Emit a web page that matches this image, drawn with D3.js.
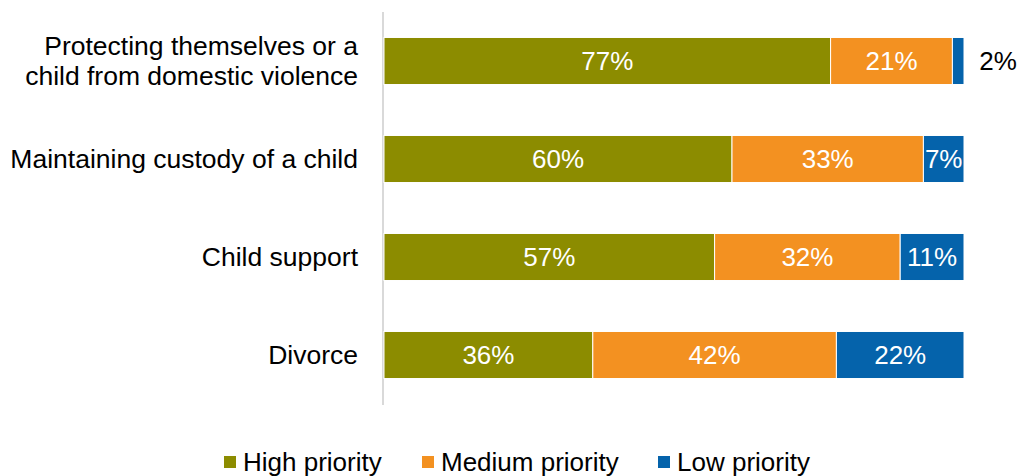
<!DOCTYPE html>
<html>
<head>
<meta charset="utf-8">
<script src="https://cdn.jsdelivr.net/npm/d3@7"></script>
<style>
  body { margin: 0; background: #fff; }
  text { font-family: "Liberation Sans", Arial, sans-serif; }
</style>
</head>
<body>
<svg id="chart" width="1021" height="476"></svg>
<script>
// Priority of legal needs, share of respondents per issue
const categories = [
  ["Protecting themselves or a", "child from domestic violence"],
  ["Maintaining custody of a child"],
  ["Child support"],
  ["Divorce"]
];
const seriesNames = ["High priority", "Medium priority", "Low priority"];
const highValues = [77, 60, 57, 36];
const mediumValues = [21, 33, 32, 42];
const lowValues = [2, 7, 11, 22];
const colors = ["#8c8c00", "#f39121", "#0563ab"];

const svg = d3.select("#chart");
const keys = categories.map((c, i) => i);
const rows = keys.map(i => ({ idx: i, high: highValues[i], medium: mediumValues[i], low: lowValues[i] }));
const stack = d3.stack().keys(["high", "medium", "low"])(rows);

const x = d3.scaleLinear().domain([0, 100]).range([384, 964]);
const y = d3.scaleBand().domain(keys).range([12, 404]).paddingInner(0.52).paddingOuter(0.26);
const fontSize = 26;
const labelFontSize = 26.5;

// category axis line
svg.append("line")
  .attr("x1", 383).attr("x2", 383)
  .attr("y1", 12).attr("y2", 405)
  .attr("stroke", "#d9d9d9").attr("stroke-width", 2);

// stacked segments
const groups = svg.selectAll("g.series").data(stack).join("g")
  .attr("class", "series")
  .attr("fill", (d, i) => colors[i]);

groups.selectAll("rect").data(d => d).join("rect")
  .attr("x", d => x(d[0]))
  .attr("y", d => y(d.data.idx))
  .attr("width", d => x(d[1]) - x(d[0]))
  .attr("height", y.bandwidth())
  .attr("stroke", "#fff").attr("stroke-width", 1);

// value labels
groups.each(function (s) {
  d3.select(this).selectAll("text").data(s).join("text")
    .attr("x", d => {
      const v = d[1] - d[0];
      return v < 5 ? x(d[1]) + 34 : (x(d[0]) + x(d[1])) / 2;
    })
    .attr("y", d => y(d.data.idx) + y.bandwidth() / 2 + 9)
    .attr("text-anchor", "middle")
    .attr("font-size", fontSize)
    .attr("fill", d => (d[1] - d[0]) < 5 ? "#000" : "#fff")
    .text(d => (d[1] - d[0]) + "%");
});

// category labels
categories.forEach((lines, i) => {
  const cy = y(i) + y.bandwidth() / 2;
  const t = svg.append("text")
    .attr("text-anchor", "end")
    .attr("font-size", labelFontSize)
    .attr("fill", "#000");
  lines.forEach((ln, j) => {
    t.append("tspan")
      .attr("x", 358)
      .attr("y", cy + 8.5 + (j - (lines.length - 1) / 2) * 30)
      .text(ln);
  });
});

// legend
const legendX = [224, 422, 658];
seriesNames.forEach((name, i) => {
  const g = svg.append("g").attr("transform", `translate(${legendX[i]},0)`);
  g.append("rect").attr("x", 0).attr("y", 456).attr("width", 12).attr("height", 12).attr("fill", colors[i]);
  g.append("text").attr("x", 19).attr("y", 471).attr("font-size", fontSize).attr("fill", "#000").text(name);
});
</script>
</body>
</html>
